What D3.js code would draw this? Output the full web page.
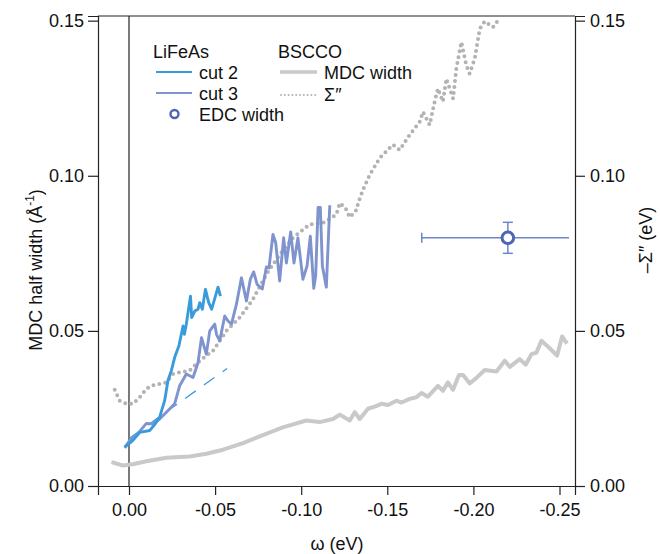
<!DOCTYPE html>
<html>
<head>
<meta charset="utf-8">
<script src="https://cdnjs.cloudflare.com/ajax/libs/d3/7.8.5/d3.min.js"></script>
<style>
  body { margin: 0; background: #fff; }
  svg text { font-family: "Liberation Sans", Arial, Helvetica, sans-serif; fill: #111; }
</style>
</head>
<body>
<div id="chart"></div>
<script>
// Data: [omega (eV), value]
var cut2 = [
  [0.0025, 0.0125], [-0.0023, 0.0147], [-0.0062, 0.0173], [-0.0120, 0.0179], [-0.0149, 0.0198],
  [-0.0178, 0.0222], [-0.0207, 0.0275], [-0.0226, 0.0339], [-0.0246, 0.0372], [-0.0265, 0.0414],
  [-0.0290, 0.0452], [-0.0314, 0.0516], [-0.0322, 0.0489], [-0.0333, 0.0522], [-0.0357, 0.0612],
  [-0.0364, 0.0543], [-0.0382, 0.0564], [-0.0401, 0.0570], [-0.0411, 0.0591], [-0.0426, 0.0570],
  [-0.0444, 0.0634], [-0.0463, 0.0591], [-0.0480, 0.0570], [-0.0502, 0.0612], [-0.0517, 0.0641],
  [-0.0531, 0.0612]
];

var cut3 = [
  [0.0025, 0.0123], [-0.0004, 0.0147], [-0.0043, 0.0163], [-0.0101, 0.0202], [-0.0139, 0.0200],
  [-0.0178, 0.0216], [-0.0217, 0.0238], [-0.0265, 0.0265], [-0.0294, 0.0323], [-0.0333, 0.0361],
  [-0.0372, 0.0350], [-0.0401, 0.0398], [-0.0421, 0.0478], [-0.0449, 0.0425], [-0.0469, 0.0500],
  [-0.0498, 0.0522], [-0.0508, 0.0489], [-0.0527, 0.0468], [-0.0556, 0.0548], [-0.0575, 0.0532],
  [-0.0595, 0.0522], [-0.0624, 0.0586], [-0.0653, 0.0671], [-0.0682, 0.0596], [-0.0705, 0.0667],
  [-0.0724, 0.0690], [-0.0744, 0.0650], [-0.0774, 0.0635], [-0.0798, 0.0706], [-0.0813, 0.0703],
  [-0.0836, 0.0811], [-0.0852, 0.0784], [-0.0875, 0.0661], [-0.0898, 0.0800], [-0.0914, 0.0719],
  [-0.0939, 0.0819], [-0.0958, 0.0719], [-0.0981, 0.0800], [-0.1010, 0.0666], [-0.1034, 0.0709],
  [-0.1053, 0.0805], [-0.1073, 0.0637], [-0.1084, 0.0677], [-0.1098, 0.0898], [-0.1111, 0.0898],
  [-0.1123, 0.0709], [-0.1146, 0.0641], [-0.1166, 0.0905]
];

// linear fit to cut 2 at low energy
var cut2Fit = [[0.0, 0.0153], [-0.057, 0.0379]];

// EDC width point with error bars
var edcPoint = { w: -0.22, v: 0.08, wLow: -0.17, wHigh: -0.2555, vLow: 0.075, vHigh: 0.085 };

var bsccoMdc = [
  [0.0102, 0.0077], [0.0035, 0.0066], [-0.0021, 0.0070], [-0.0101, 0.0080], [-0.0217, 0.0091],
  [-0.0352, 0.0095], [-0.0449, 0.0104], [-0.0546, 0.0117], [-0.0662, 0.0138], [-0.0759, 0.0160],
  [-0.0893, 0.0189], [-0.1030, 0.0211], [-0.1107, 0.0206], [-0.1185, 0.0216], [-0.1224, 0.0230],
  [-0.1282, 0.0211], [-0.1311, 0.0238], [-0.1340, 0.0216], [-0.1388, 0.0249], [-0.1427, 0.0256],
  [-0.1466, 0.0265], [-0.1504, 0.0261], [-0.1553, 0.0275], [-0.1582, 0.0269], [-0.1630, 0.0281],
  [-0.1669, 0.0286], [-0.1698, 0.0300], [-0.1736, 0.0288], [-0.1794, 0.0323], [-0.1823, 0.0307],
  [-0.1852, 0.0334], [-0.1882, 0.0310], [-0.1916, 0.0358], [-0.1940, 0.0358], [-0.1978, 0.0331],
  [-0.2013, 0.0346], [-0.2066, 0.0374], [-0.2134, 0.0369], [-0.2182, 0.0404], [-0.2211, 0.0384],
  [-0.2269, 0.0409], [-0.2304, 0.0391], [-0.2337, 0.0425], [-0.2366, 0.0430], [-0.2395, 0.0468],
  [-0.2443, 0.0444], [-0.2486, 0.0420], [-0.2515, 0.0482], [-0.2544, 0.0459]
];

// -Sigma'' (right axis, eV)
var bsccoSigma = [
  [0.0083, 0.0310], [0.0054, 0.0275], [0.0015, 0.0265], [-0.0023, 0.0265], [-0.0062, 0.0286],
  [-0.0101, 0.0313], [-0.0130, 0.0323], [-0.0178, 0.0329], [-0.0217, 0.0334], [-0.0256, 0.0361],
  [-0.0294, 0.0366], [-0.0352, 0.0372], [-0.0411, 0.0404], [-0.0488, 0.0436], [-0.0566, 0.0500],
  [-0.0643, 0.0543], [-0.0720, 0.0602], [-0.0798, 0.0682], [-0.0875, 0.0746], [-0.0952, 0.0800],
  [-0.1049, 0.0843], [-0.1127, 0.0848], [-0.1204, 0.0875], [-0.1224, 0.0912], [-0.1258, 0.0895],
  [-0.1282, 0.0866], [-0.1316, 0.0885], [-0.1340, 0.0927], [-0.1363, 0.0960], [-0.1398, 0.1003],
  [-0.1456, 0.1057], [-0.1533, 0.1100], [-0.1572, 0.1083], [-0.1630, 0.1132], [-0.1688, 0.1174],
  [-0.1707, 0.1206], [-0.1746, 0.1164], [-0.1775, 0.1239], [-0.1794, 0.1281], [-0.1823, 0.1239],
  [-0.1843, 0.1313], [-0.1882, 0.1249], [-0.1901, 0.1346], [-0.1930, 0.1431], [-0.1959, 0.1356],
  [-0.1978, 0.1329], [-0.2008, 0.1378], [-0.2037, 0.1474], [-0.2066, 0.1498], [-0.2114, 0.1479],
  [-0.2153, 0.1508]
];

// Tick values and labels
var xTicks = [0, -0.05, -0.10, -0.15, -0.20, -0.25];
var xTickLabels = ["0.00", "-0.05", "-0.10", "-0.15", "-0.20", "-0.25"];
var yTicks = [0, 0.05, 0.10, 0.15];
var yTickLabels = ["0.00", "0.05", "0.10", "0.15"];

// Colors
var cut2Color = "#3a9bdc";
var cut3Color = "#7f93cf";
var edcColor = "#4e65b3";
var errColor = "#6e85c8";
var mdcColor = "#c9c9c9";
var sigmaColor = "#b3b3b3";

var svgWidth = 660;
var svgHeight = 554;

var margin = { top: 16, right: 85, bottom: 68, left: 98 };
var width = svgWidth - margin.left - margin.right;
var height = svgHeight - margin.top - margin.bottom;

var svg = d3.select("#chart")
  .append("svg")
  .attr("width", svgWidth)
  .attr("height", svgHeight);

var chartGroup = svg.append("g")
  .attr("transform", `translate(${margin.left}, ${margin.top})`);

// Scales
var xScale = d3.scaleLinear()
  .domain([0.018, -0.259])
  .range([0, width]);

var yScale = d3.scaleLinear()
  .domain([0, 0.1515])
  .range([height, 0]);

var yRightScale = d3.scaleLinear()
  .domain([0, 0.1515])
  .range([height, 0]);

// Clip to the plot frame
chartGroup.append("clipPath")
  .attr("id", "clip")
  .append("rect")
  .attr("width", width)
  .attr("height", height);

var plot = chartGroup.append("g").attr("clip-path", "url(#clip)");

// Vertical line at omega = 0
plot.append("line")
  .attr("x1", xScale(0)).attr("x2", xScale(0))
  .attr("y1", 0).attr("y2", height)
  .attr("stroke", "#333")
  .attr("stroke-width", 1.3);

var line = d3.line()
  .x(d => xScale(d[0]))
  .y(d => yScale(d[1]));

var lineRight = d3.line()
  .x(d => xScale(d[0]))
  .y(d => yRightScale(d[1]));

// BSCCO MDC width
plot.append("path")
  .datum(bsccoMdc)
  .attr("d", line)
  .attr("fill", "none")
  .attr("stroke", mdcColor)
  .attr("stroke-width", 4)
  .attr("stroke-linejoin", "round");

// BSCCO Sigma'' dotted
plot.append("path")
  .datum(bsccoSigma)
  .attr("d", lineRight)
  .attr("fill", "none")
  .attr("stroke", sigmaColor)
  .attr("stroke-width", 4)
  .attr("stroke-linecap", "round")
  .attr("stroke-dasharray", "0,6");

// Dashed fit line
plot.append("path")
  .datum(cut2Fit)
  .attr("d", line)
  .attr("fill", "none")
  .attr("stroke", cut2Color)
  .attr("stroke-width", 1.3)
  .attr("stroke-dasharray", "13,10");

// cut 3 then cut 2
plot.append("path")
  .datum(cut3)
  .attr("d", line)
  .attr("fill", "none")
  .attr("stroke", cut3Color)
  .attr("stroke-width", 2.9)
  .attr("stroke-linejoin", "round");

plot.append("path")
  .datum(cut2)
  .attr("d", line)
  .attr("fill", "none")
  .attr("stroke", cut2Color)
  .attr("stroke-width", 2.9)
  .attr("stroke-linejoin", "round");

// EDC width point with error bars
var ex = xScale(edcPoint.w);
var ey = yScale(edcPoint.v);
plot.append("line")
  .attr("x1", xScale(edcPoint.wLow)).attr("x2", xScale(edcPoint.wHigh))
  .attr("y1", ey).attr("y2", ey)
  .attr("stroke", errColor).attr("stroke-width", 1.5);
plot.append("line")
  .attr("x1", xScale(edcPoint.wLow)).attr("x2", xScale(edcPoint.wLow))
  .attr("y1", ey - 5).attr("y2", ey + 5)
  .attr("stroke", errColor).attr("stroke-width", 1.5);
plot.append("line")
  .attr("x1", ex).attr("x2", ex)
  .attr("y1", yScale(edcPoint.vHigh)).attr("y2", yScale(edcPoint.vLow))
  .attr("stroke", errColor).attr("stroke-width", 1.5);
[edcPoint.vHigh, edcPoint.vLow].forEach(function(v) {
  plot.append("line")
    .attr("x1", ex - 5).attr("x2", ex + 5)
    .attr("y1", yScale(v)).attr("y2", yScale(v))
    .attr("stroke", errColor).attr("stroke-width", 1.5);
});
plot.append("circle")
  .attr("cx", ex).attr("cy", ey).attr("r", 5.8)
  .attr("fill", "#fff")
  .attr("stroke", edcColor)
  .attr("stroke-width", 3);

// Axes
var bottomAxis = d3.axisBottom(xScale)
  .tickValues(xTicks)
  .tickFormat((d, i) => xTickLabels[i])
  .tickSizeOuter(0)
  .tickSize(9)
  .tickPadding(8);

var leftAxis = d3.axisLeft(yScale)
  .tickValues(yTicks)
  .tickFormat((d, i) => yTickLabels[i])
  .tickSizeOuter(0)
  .tickSize(10)
  .tickPadding(4);

var rightAxis = d3.axisRight(yRightScale)
  .tickValues(yTicks)
  .tickFormat((d, i) => yTickLabels[i])
  .tickSizeOuter(0)
  .tickSize(10)
  .tickPadding(5);

function styleAxis(g) {
  g.selectAll("path, line").attr("stroke", "#222").attr("stroke-width", 1.2);
  g.selectAll("text")
    .style("font-size", "18px")
    .style("font-family", "'Liberation Sans', Arial, sans-serif")
    .attr("fill", "#111");
}

chartGroup.append("g")
  .attr("transform", `translate(0, ${height})`)
  .call(bottomAxis)
  .call(styleAxis);

chartGroup.append("g")
  .call(leftAxis)
  .call(styleAxis);

chartGroup.append("g")
  .attr("transform", `translate(${width}, 0)`)
  .call(rightAxis)
  .call(styleAxis);

// top frame line
chartGroup.append("line")
  .attr("x1", 0).attr("x2", width)
  .attr("y1", 0).attr("y2", 0)
  .attr("stroke", "#222").attr("stroke-width", 1.2);

// Axis titles
svg.append("text")
  .attr("x", 337)
  .attr("y", 550)
  .style("font-size", "18px")
  .style("text-anchor", "middle")
  .text("\u03c9  (eV)");

var leftTitle = svg.append("text")
  .attr("transform", "translate(42, 270) rotate(-90)")
  .style("font-size", "18px")
  .style("text-anchor", "middle");
leftTitle.append("tspan").text("MDC half width  (\u00c5");
leftTitle.append("tspan").attr("dy", -8).style("font-size", "12px").text("-1");
leftTitle.append("tspan").attr("dy", 8).text(")");

svg.append("text")
  .attr("transform", "translate(652, 240) rotate(-90)")
  .style("font-size", "18px")
  .style("text-anchor", "middle")
  .text("\u2013\u03a3\u2033  (eV)");

// Legend
var legend = svg.append("g");

legend.append("text").attr("x", 153).attr("y", 58).style("font-size", "18px").text("LiFeAs");
legend.append("text").attr("x", 278).attr("y", 58).style("font-size", "18px").text("BSCCO");

legend.append("line")
  .attr("x1", 156).attr("x2", 192).attr("y1", 72).attr("y2", 72)
  .attr("stroke", cut2Color).attr("stroke-width", 2.2);
legend.append("text").attr("x", 199).attr("y", 78.5).style("font-size", "18px").text("cut 2");

legend.append("line")
  .attr("x1", 156).attr("x2", 192).attr("y1", 93).attr("y2", 93)
  .attr("stroke", cut3Color).attr("stroke-width", 2.2);
legend.append("text").attr("x", 199).attr("y", 99.5).style("font-size", "18px").text("cut 3");

legend.append("circle")
  .attr("cx", 174.5).attr("cy", 114).attr("r", 4)
  .attr("fill", "#fff").attr("stroke", edcColor).attr("stroke-width", 2.4);
legend.append("text").attr("x", 199).attr("y", 120.5).style("font-size", "18px").text("EDC width");

legend.append("line")
  .attr("x1", 280).attr("x2", 317).attr("y1", 72).attr("y2", 72)
  .attr("stroke", mdcColor).attr("stroke-width", 3.5);
legend.append("text").attr("x", 324).attr("y", 78.5).style("font-size", "18px").text("MDC width");

legend.append("line")
  .attr("x1", 281).attr("x2", 316).attr("y1", 95).attr("y2", 95)
  .attr("stroke", sigmaColor).attr("stroke-width", 2)
  .attr("stroke-linecap", "round")
  .attr("stroke-dasharray", "0,3.8");
legend.append("text").attr("x", 324).attr("y", 100.5).style("font-size", "18px").text("\u03a3\u2033");
</script>
</body>
</html>
